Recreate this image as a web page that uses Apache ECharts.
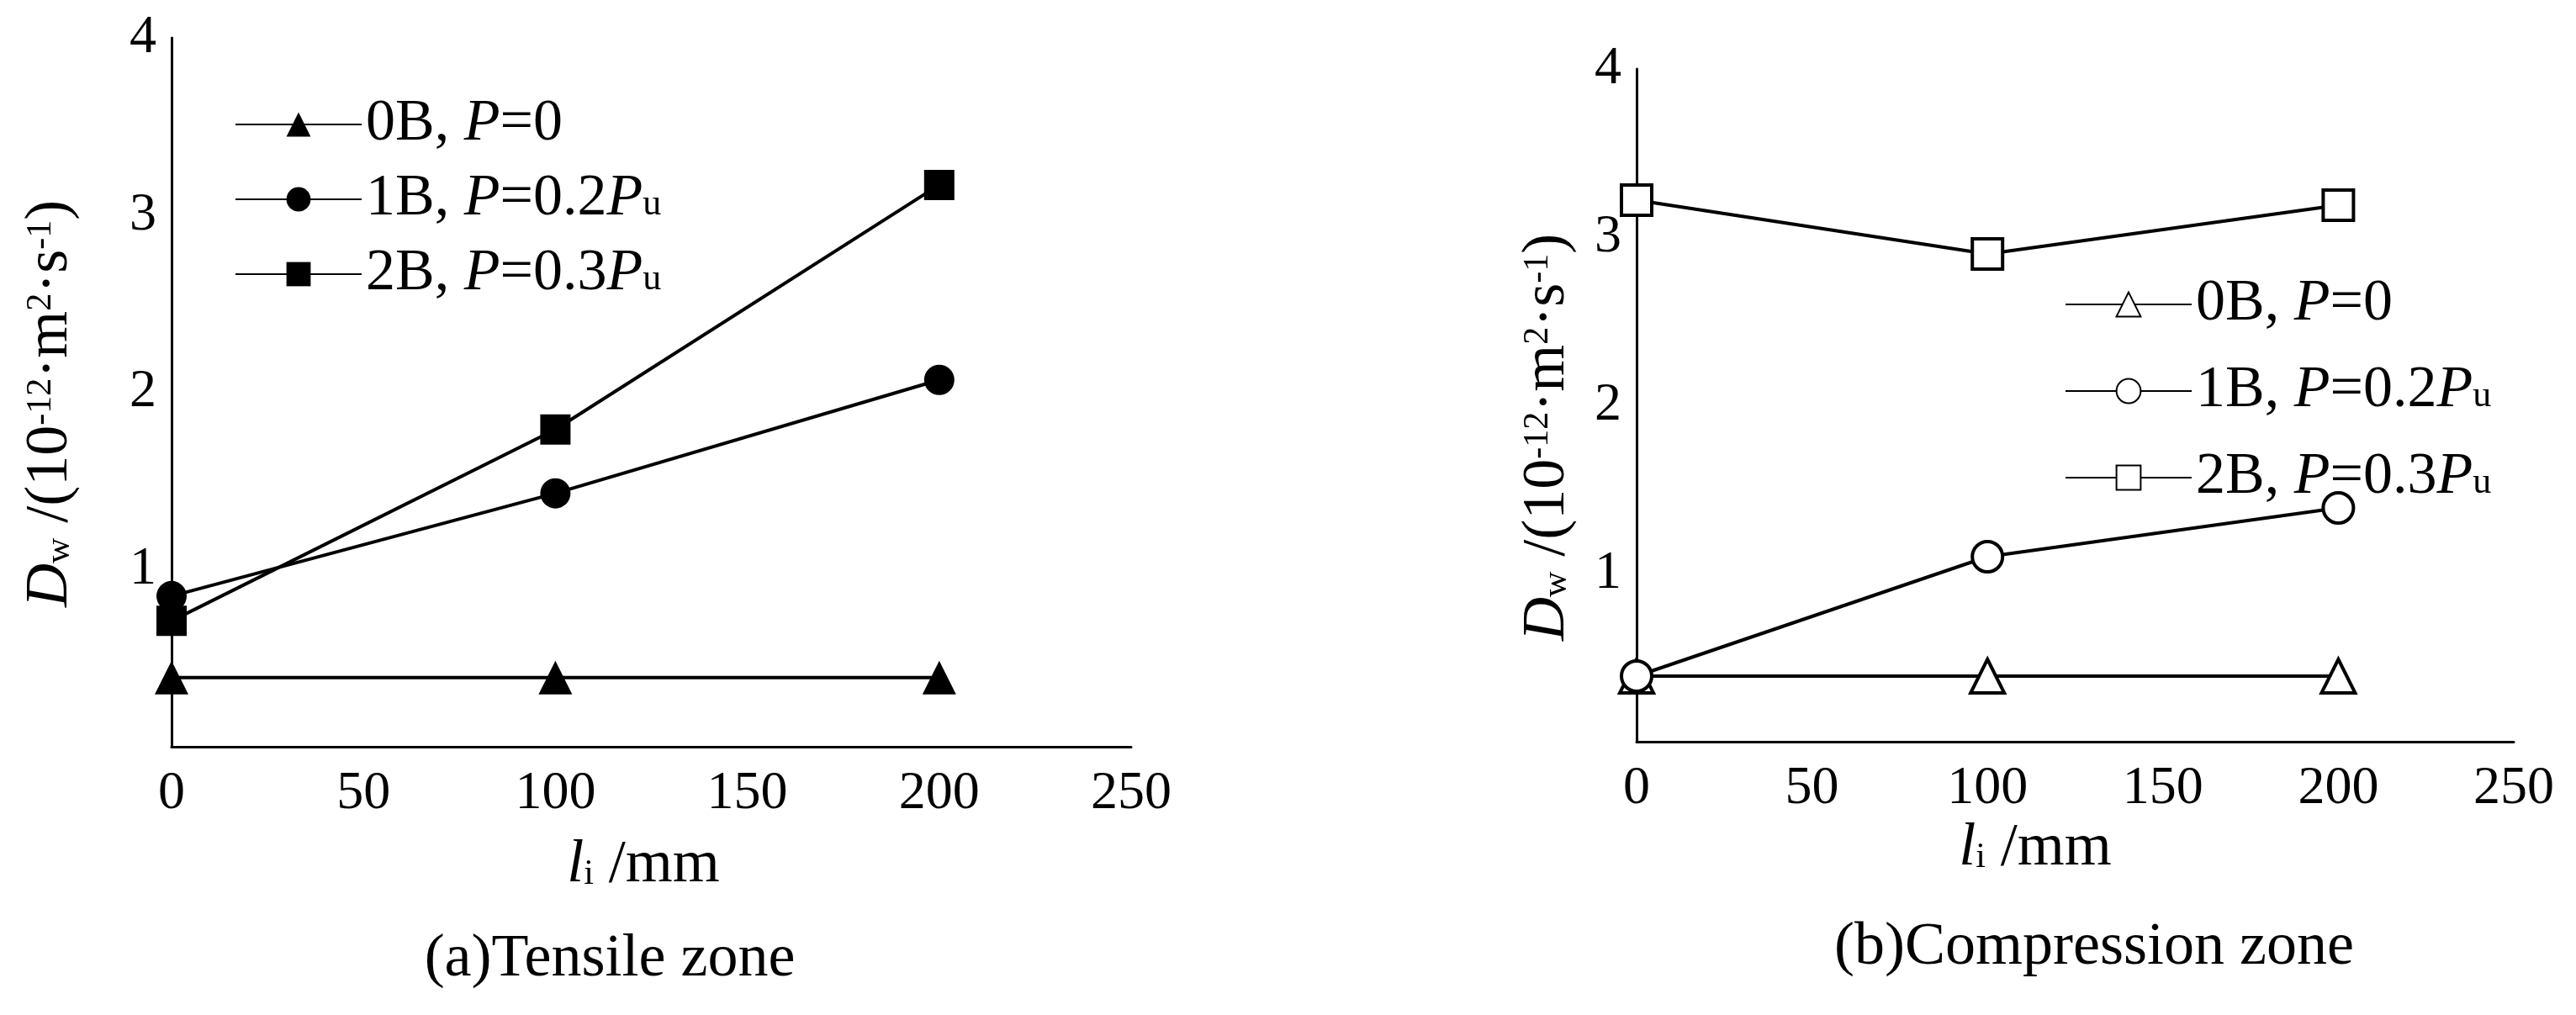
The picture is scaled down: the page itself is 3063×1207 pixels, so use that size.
<!DOCTYPE html>
<html><head><meta charset="utf-8">
<script src="https://cdn.jsdelivr.net/npm/echarts@6/dist/echarts.min.js"></script>
<style>html,body{margin:0;background:#fff}#main{width:3063px;height:1207px}</style>
</head><body><div id="main"></div>
<script>
var xs = [0, 100, 200];
var names = ['0B, {i|P}=0', '1B, {i|P}=0.2{i|P}{s|u}', '2B, {i|P}=0.3{i|P}{s|u}'];
var symbols = ['triangle', 'circle', 'rect'];
// 受拉区
var tens0B = [0.39, 0.39, 0.39];
var tens1B = [0.85, 1.43, 2.07];
var tens2B = [0.71, 1.79, 3.17];
// 受压区
var comp0B = [0.39, 0.39, 0.39];
var comp1B = [0.39, 1.10, 1.39];
var comp2B = [3.22, 2.90, 3.19];

var myChart = echarts.init(document.getElementById('main'));
var font = 'Liberation Serif';
var rich = {
  i: {fontStyle: 'italic', fontFamily: font, fontSize: 70, color: '#000', lineHeight: 56},
  s: {fontFamily: font, fontSize: 44, color: '#000', verticalAlign: 'bottom', lineHeight: 56, padding: [34, 0, 0, 0]}
};
function pairs(v) { return xs.map(function (x, k) { return [x, v[k]]; }); }
function axisX(idx) {
  return {type: 'value', gridIndex: idx, min: 0, max: 250, interval: 50,
    axisLine: {lineStyle: {color: '#000', width: 3}}, axisTick: {show: false}, splitLine: {show: false},
    axisLabel: {color: '#000', fontSize: 64, fontFamily: font, margin: 24}};
}
function axisY(idx) {
  return {type: 'value', gridIndex: idx, min: 0, max: 4, interval: 1,
    axisLine: {show: true, lineStyle: {color: '#000', width: 3}}, axisTick: {show: false}, splitLine: {show: false},
    axisLabel: {color: '#000', fontSize: 64, fontFamily: font, margin: 18,
      formatter: function (v) { return v === 0 ? '' : v; }}};
}
function ser(name, data, k, g, open) {
  return {name: name, type: 'line', xAxisIndex: g, yAxisIndex: g, data: pairs(data),
    symbol: symbols[k], symbolSize: k == 0 ? 40 : 36,
    lineStyle: {color: '#000', width: 4},
    itemStyle: open ? {color: '#fff', borderColor: '#000', borderWidth: 4} : {color: '#000'}};
}
function leg(data, left, top, gap) {
  return {data: data, orient: 'vertical', left: left, top: top, itemWidth: 150, itemHeight: 36, itemGap: gap,
    textStyle: {fontFamily: font, fontSize: 70, color: '#000', lineHeight: 56, rich: rich}};
}
var yname = '{i|D}{s|w} /(10{p|-12}·m{p|2}·s{p|-1})';
var yrich = {
  i: {fontStyle: 'italic', fontFamily: font, fontSize: 72, color: '#000', lineHeight: 64},
  s: {fontFamily: font, fontSize: 42, color: '#000', verticalAlign: 'bottom', lineHeight: 64, padding: [36, 0, 0, 0]},
  p: {fontFamily: font, fontSize: 42, color: '#000', verticalAlign: 'top', lineHeight: 64, padding: [0, 0, 36, 0]}
};
function txt(x, y, s, rot) {
  return {type: 'text', x: x, y: y, rotation: rot || 0,
    style: {text: s, rich: yrich, fontFamily: font, fontSize: 72, lineHeight: 64, fill: '#000', align: 'center', verticalAlign: 'middle'}};
}
var option = {
  backgroundColor: '#fff',
  grid: [
    {left: 204, top: 45, width: 1141, height: 843},
    {left: 1946, top: 82, width: 1043, height: 800}
  ],
  xAxis: [axisX(0), axisX(1)],
  yAxis: [axisY(0), axisY(1)],
  legend: [
    leg([names[0], names[1], names[2]], 274, 108, 4),
    leg([names[0] + ' ', names[1] + ' ', names[2] + ' '], 2450, 322, 18)
  ],
  series: [
    ser(names[0], tens0B, 0, 0, false),
    ser(names[1], tens1B, 1, 0, false),
    ser(names[2], tens2B, 2, 0, false),
    ser(names[0] + ' ', comp0B, 0, 1, true),
    ser(names[1] + ' ', comp1B, 1, 1, true),
    ser(names[2] + ' ', comp2B, 2, 1, true)
  ],
  graphic: [
    txt(60, 480, yname, Math.PI / 2),
    txt(1840, 520, yname, Math.PI / 2),
    txt(765, 1029, '{i|l}{s|i} /mm'),
    txt(2420, 1009, '{i|l}{s|i} /mm'),
    txt(725, 1141, '(a)Tensile zone'),
    txt(2490, 1127, '(b)Compression zone')
  ]
};
myChart.setOption(option);
</script></body></html>
